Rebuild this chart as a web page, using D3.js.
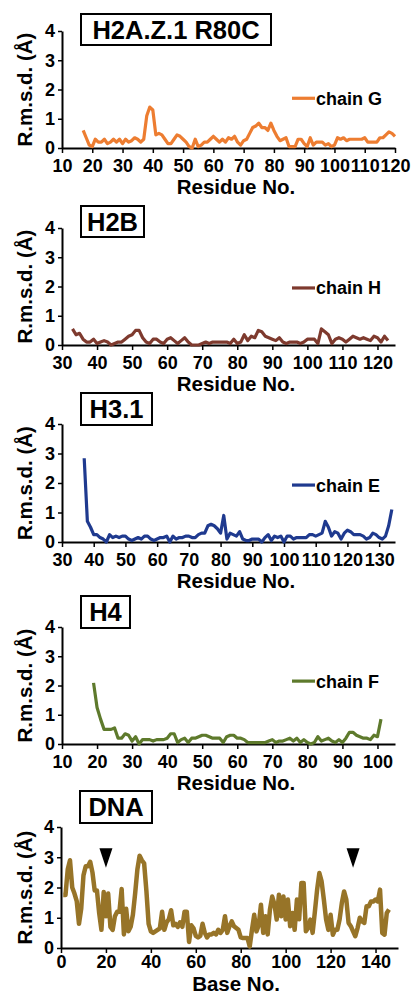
<!DOCTYPE html>
<html>
<head>
<meta charset="utf-8">
<script src="https://cdn.jsdelivr.net/npm/d3@7"></script>
<style>
  body { margin: 0; background: #fff; }
  svg { display: block; font-family: "Liberation Sans", Arial, sans-serif; font-weight: bold; }
</style>
</head>
<body>
<svg width="412" height="996"></svg>
<script>
// R.m.s.d. per residue / base
const startG = 17;
const rmsdG = [0.6,0.35,0.1,0.05,0.3,0.2,0.2,0.3,0.15,0.2,0.3,0.2,0.3,0.15,0.3,0.2,0.25,0.35,0.3,0.2,
  0.3,1.1,1.4,1.3,0.45,0.5,0.45,0.3,0.15,0.15,0.3,0.45,0.4,0.3,0.2,0.05,0.0,0.3,0.05,0.1,
  0.2,0.2,0.3,0.4,0.3,0.2,0.3,0.2,0.35,0.3,0.4,0.2,0.1,0.25,0.3,0.5,0.7,0.75,0.85,0.7,
  0.7,0.6,0.85,0.6,0.4,0.25,0.3,0.35,0.05,0.05,0.05,0.3,0.3,0.15,0.05,0.35,0.1,0.2,0.2,0.2,
  0.1,0.15,0.05,0.1,0.35,0.3,0.35,0.25,0.3,0.3,0.3,0.3,0.3,0.35,0.2,0.2,0.2,0.2,0.35,0.35,
  0.45,0.55,0.5,0.4];

const startH = 33;
const rmsdH = [0.55,0.35,0.4,0.2,0.1,0.1,0.2,0.05,0.1,0.15,0.1,0.0,0.05,0.1,0.1,0.2,0.3,0.35,0.5,0.5,
  0.25,0.1,0.05,0.2,0.2,0.1,0.05,0.2,0.25,0.15,0.05,0.15,0.25,0.1,0.0,0.0,0.0,0.05,0.1,0.05,
  0.1,0.1,0.1,0.1,0.1,0.05,0.2,0.05,0.1,0.35,0.15,0.3,0.25,0.5,0.45,0.3,0.25,0.2,0.15,0.25,
  0.1,0.05,0.1,0.1,0.1,0.05,0.1,0.2,0.2,0.2,0.05,0.55,0.45,0.35,0.05,0.2,0.25,0.2,0.1,0.2,
  0.3,0.25,0.2,0.25,0.2,0.15,0.3,0.25,0.1,0.3,0.15];

const startE = 37;
const rmsdE = [2.84,0.7,0.5,0.25,0.25,0.15,0.1,0.0,0.25,0.15,0.2,0.15,0.2,0.2,0.1,0.05,0.1,0.15,0.1,0.2,
  0.2,0.1,0.05,0.1,0.15,0.15,0.2,0.0,0.2,0.1,0.15,0.15,0.2,0.2,0.15,0.15,0.25,0.3,0.3,0.55,
  0.6,0.55,0.45,0.3,0.9,0.1,0.3,0.25,0.2,0.35,0.1,0.05,0.05,0.1,0.1,0.1,0.0,0.15,0.25,0.05,
  0.2,0.15,0.2,0.0,0.2,0.2,0.1,0.15,0.15,0.15,0.15,0.25,0.25,0.2,0.25,0.3,0.7,0.5,0.2,0.35,
  0.3,0.1,0.3,0.4,0.35,0.25,0.25,0.25,0.2,0.1,0.15,0.3,0.25,0.15,0.1,0.2,0.55,1.1];

const startF = 19;
const rmsdF = [2.09,1.25,0.85,0.5,0.5,0.5,0.55,0.2,0.2,0.35,0.3,0.1,0.25,0.0,0.15,0.15,0.15,0.1,0.15,0.15,
  0.15,0.2,0.35,0.35,0.05,0.15,0.2,0.05,0.2,0.2,0.25,0.3,0.3,0.25,0.2,0.2,0.2,0.05,0.25,0.3,
  0.3,0.2,0.2,0.15,0.05,0.05,0.05,0.05,0.05,0.05,0.1,0.15,0.05,0.1,0.1,0.15,0.2,0.1,0.2,0.05,
  0.15,0.05,0.0,0.05,0.25,0.1,0.15,0.2,0.1,0.05,0.15,0.05,0.2,0.4,0.4,0.3,0.25,0.2,0.2,0.15,
  0.3,0.25,0.85];

const startDNA = 1;
const rmsdDNA = [1.75,1.75,2.6,2.9,2.0,1.8,1.55,0.8,1.3,2.4,2.7,2.7,2.85,2.5,1.9,1.9,1.15,0.6,1.85,1.05,
  1.8,0.7,0.6,1.05,1.2,1.2,1.95,0.45,1.3,0.55,0.7,1.1,1.8,2.6,3.05,2.9,2.8,1.9,0.8,0.55,
  0.5,0.55,0.6,0.65,1.2,0.6,0.85,0.95,1.25,0.75,0.8,0.7,0.85,0.7,1.2,1.2,0.2,0.75,0.65,0.4,
  0.35,0.4,0.8,0.5,0.35,0.45,0.45,0.5,0.45,0.6,0.5,0.6,1.05,0.5,0.72,0.88,0.72,0.66,0.6,0.35,
  0.33,0.33,0.33,0.05,0.6,1.1,0.55,0.75,1.43,0.5,1.05,0.45,1.27,1.7,1.45,0.94,1.76,1.05,1.7,0.94,
  1.6,0.72,1.16,0.6,1.6,0.95,2.15,2.15,0.55,0.66,0.94,0.5,1.2,1.93,2.48,2.2,1.6,0.94,0.6,1.1,
  0.44,0.6,0.6,0.94,1.49,1.87,1.6,0.83,0.72,0.55,0.39,0.66,1.0,0.88,0.83,1.38,1.38,1.54,1.54,1.6,
  1.54,1.93,0.5,0.44,1.16,1.27];

// marked bases (arrowheads)
const markBases = [20, 130];

const titles = ["H2A.Z.1 R80C", "H2B", "H3.1", "H4", "DNA"];
const chains = ["chain G", "chain H", "chain E", "chain F", null];
const colors = ["#ED7D31", "#7E3A2E", "#1F3A8F", "#5E7A2C", "#977428"];
const xTitles = ["Residue No.", "Residue No.", "Residue No.", "Residue No.", "Base No."];
const xDomains = [[10, 120], [30, 125], [30, 135], [10, 105], [0, 150]];
const xTickStep = [10, 10, 10, 10, 20];
const yTicks = [0, 1, 2, 3, 4];

// layout of each panel (pixels)
const layout = [
  {left: 62, right: 395, top: 31, bottom: 148, box: [81, 14, 190, 31], legendY: 1.7, width: 3.2, titleDy: 46, pad: 6},
  {left: 62, right: 395, top: 228, bottom: 345, box: [81, 206, 63, 31], legendY: 1.95, width: 3.2, titleDy: 46, pad: 6},
  {left: 62, right: 395, top: 424, bottom: 542, box: [81, 393, 71, 32], legendY: 1.93, width: 3.2, titleDy: 46, pad: 6},
  {left: 62, right: 395, top: 627, bottom: 744, box: [81, 596, 49, 32], legendY: 2.15, width: 3.2, titleDy: 46, pad: 6},
  {left: 61, right: 398, top: 827, bottom: 948, box: [80, 791, 72, 32], legendY: null, width: 4.5, titleDy: 43, pad: 2}
];

const series = [
  [startG, rmsdG], [startH, rmsdH], [startE, rmsdE], [startF, rmsdF], [startDNA, rmsdDNA]
];

let svg = d3.select("svg");
svg.append("rect").attr("width", 412).attr("height", 996).attr("fill", "#fff");

function createAxis(g, i, L) {
    let scX = d3.scaleLinear().domain(xDomains[i]).range([L.left, L.right]);
    let scY = d3.scaleLinear().domain([0, 4]).range([L.bottom, L.top]);

    let ticksX = d3.range(xDomains[i][0], xDomains[i][1] + 1, xTickStep[i]);

    let ax = g.append("g")
        .attr("transform", `translate(0, ${L.bottom})`)
        .call(d3.axisBottom(scX).tickValues(ticksX).tickSize(5).tickSizeOuter(0).tickPadding(L.pad));
    let ay = g.append("g")
        .attr("transform", `translate(${L.left}, 0)`)
        .call(d3.axisLeft(scY).tickValues(yTicks).tickFormat(d3.format("d"))
            .tickSize(4).tickSizeOuter(0).tickPadding(3));

    [ax, ay].forEach(a => {
        a.select(".domain").attr("stroke", "#000").attr("stroke-width", 2);
        a.selectAll(".tick line").attr("stroke", "#000").attr("stroke-width", 1.5);
        a.selectAll("text").attr("fill", "#000")
            .style("font-size", "18px").style("font-weight", "bold")
            .style("font-family", "Liberation Sans, Arial, sans-serif");
    });

    // axis titles
    g.append("text")
        .attr("x", 236).attr("y", L.bottom + L.titleDy)
        .attr("text-anchor", "middle")
        .style("font-size", "20.5px")
        .text(xTitles[i]);
    g.append("text")
        .attr("transform", `translate(32, ${(L.top + L.bottom) / 2}) rotate(-90)`)
        .attr("text-anchor", "middle")
        .style("font-size", "20.5px")
        .text("R.m.s.d. (Å)");

    return [scX, scY];
}

function drawPanel(i) {
    const L = layout[i];
    let g = svg.append("g");
    const [scX, scY] = createAxis(g, i, L);

    const [start, vals] = series[i];
    const points = vals.map((v, k) => ({x: start + k, y: v}));

    let line = d3.line().x(d => scX(d.x)).y(d => scY(d.y));
    g.append("path")
        .datum(points)
        .attr("d", line)
        .attr("fill", "none")
        .attr("stroke", colors[i])
        .attr("stroke-width", L.width)
        .attr("stroke-linejoin", "round");

    // title box
    const [bx, by, bw, bh] = L.box;
    g.append("rect")
        .attr("x", bx).attr("y", by).attr("width", bw).attr("height", bh)
        .attr("fill", "#fff").attr("stroke", "#000").attr("stroke-width", 2);
    g.append("text")
        .attr("x", bx + bw / 2).attr("y", by + bh / 2)
        .attr("dy", "0.36em")
        .attr("text-anchor", "middle")
        .style("font-size", "25.5px")
        .text(titles[i]);

    // legend
    if (chains[i]) {
        let ly = scY(L.legendY);
        g.append("line")
            .attr("x1", 292).attr("x2", 315).attr("y1", ly).attr("y2", ly)
            .attr("stroke", colors[i]).attr("stroke-width", 3.2);
        g.append("text")
            .attr("x", 316).attr("y", ly).attr("dy", "0.36em")
            .style("font-size", "18px")
            .text(chains[i]);
    }

    // arrowheads over the marked bases
    if (i === 4) {
        g.selectAll(".mark")
            .data(markBases)
            .enter()
            .append("path")
            .attr("d", d => {
                let cx = scX(d), y0 = scY(3.3), y1 = scY(2.65);
                return `M${cx - 6.5},${y0} L${cx + 6.5},${y0} L${cx},${y1} Z`;
            })
            .attr("fill", "#000");
    }
}

for (let i = 0; i < 5; i++) drawPanel(i);
</script>
</body>
</html>
